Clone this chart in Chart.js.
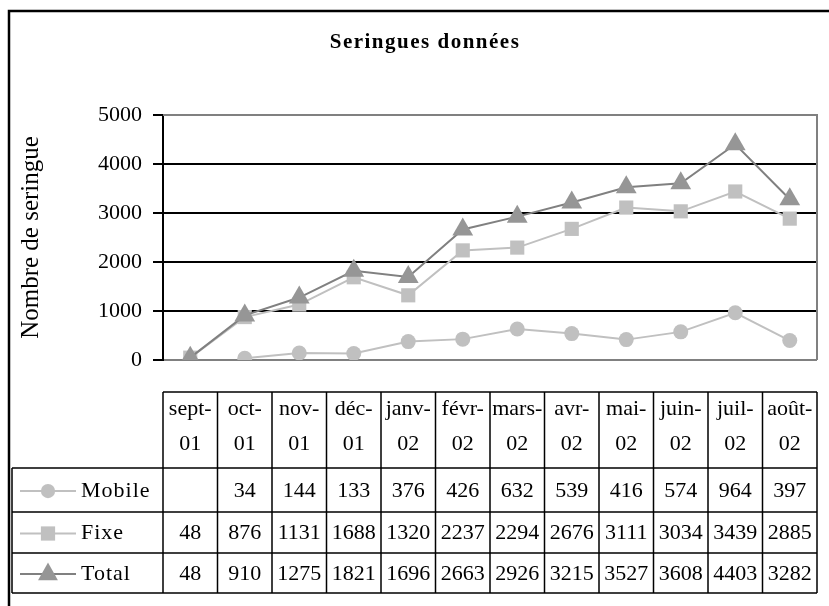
<!DOCTYPE html>
<html>
<head>
<meta charset="utf-8">
<script src="https://cdn.jsdelivr.net/npm/chart.js@4/dist/chart.umd.min.js"></script>
<style>
  html, body { margin: 0; padding: 0; background: #fff; }
  #wrap { width: 829px; height: 606px; position: relative; }
</style>
</head>
<body>
<div id="wrap"><canvas id="c" width="829" height="606"></canvas></div>
<script>
const months = ['sept-01', 'oct-01', 'nov-01', 'déc-01', 'janv-02', 'févr-02', 'mars-02', 'avr-02', 'mai-02', 'juin-02', 'juil-02', 'août-02'];
const mobile = [null, 34, 144, 133, 376, 426, 632, 539, 416, 574, 964, 397];
const fixe = [48, 876, 1131, 1688, 1320, 2237, 2294, 2676, 3111, 3034, 3439, 2885];
const total = [48, 910, 1275, 1821, 1696, 2663, 2926, 3215, 3527, 3608, 4403, 3282];
const yTicks = [0, 1000, 2000, 3000, 4000, 5000];

const SERIF = '"Liberation Serif", "DejaVu Serif", serif';
const LIGHT = '#c0c0c0';
const DARK = '#969696';
const DARK_LINE = '#808080';
const FS = 22;

const series = [
  { name: 'Mobile', data: mobile, color: LIGHT, line: LIGHT, style: 'circle', r: 7.5 },
  { name: 'Fixe', data: fixe, color: LIGHT, line: LIGHT, style: 'rect', r: 10 },
  { name: 'Total', data: total, color: DARK, line: DARK_LINE, style: 'triangle', r: 12 },
];

// header row, then one row per series
const ROWS = [392, 468, 512, 553, 593];
const LEG_LEFT = 12;

function marker(ctx, style, x, y, r, color) {
  ctx.save();
  ctx.fillStyle = color;
  ctx.beginPath();
  if (style === 'circle') {
    ctx.arc(x, y, r, 0, Math.PI * 2);
  } else if (style === 'rect') {
    const s = r * 0.75;
    ctx.rect(x - s, y - s, s * 2, s * 2);
  } else {
    ctx.moveTo(x, y - r);
    ctx.lineTo(x + r * 0.87, y + r * 0.55);
    ctx.lineTo(x - r * 0.87, y + r * 0.55);
    ctx.closePath();
  }
  ctx.fill();
  ctx.restore();
}

const frame = {
  id: 'frame',
  beforeDatasetsDraw(chart) {
    const { ctx, chartArea: a } = chart;
    ctx.save();
    ctx.strokeStyle = '#808080';
    ctx.lineWidth = 2;
    ctx.beginPath();
    ctx.moveTo(a.left, a.top);
    ctx.lineTo(a.right, a.top);
    ctx.lineTo(a.right, a.bottom);
    ctx.stroke();
    ctx.restore();
  },
  afterDraw(chart) {
    const { ctx, chartArea: a } = chart;
    const xs = chart.scales.x;
    const colW = (a.right - a.left) / months.length;
    ctx.save();

    // outer frame (top and left edges visible)
    ctx.strokeStyle = '#000';
    ctx.lineWidth = 2.5;
    ctx.beginPath();
    ctx.moveTo(9, 606);
    ctx.lineTo(9, 11);
    ctx.lineTo(829, 11);
    ctx.stroke();

    // title
    ctx.fillStyle = '#000';
    ctx.font = 'bold 21px ' + SERIF;
    ctx.letterSpacing = '1.5px';
    ctx.textAlign = 'center';
    ctx.textBaseline = 'middle';
    ctx.fillText('Seringues données', 425, 43);
    ctx.letterSpacing = '0px';

    // data table grid
    ctx.lineWidth = 1.5;
    ctx.strokeStyle = '#000';
    ctx.beginPath();
    for (let i = 0; i <= months.length; i++) {
      const x = a.left + i * colW;
      ctx.moveTo(x, ROWS[0]);
      ctx.lineTo(x, ROWS[4]);
    }
    ctx.moveTo(a.left, ROWS[0]);
    ctx.lineTo(a.right, ROWS[0]);
    for (let r = 1; r <= 4; r++) {
      ctx.moveTo(LEG_LEFT, ROWS[r]);
      ctx.lineTo(a.right, ROWS[r]);
    }
    ctx.moveTo(LEG_LEFT, ROWS[1]);
    ctx.lineTo(LEG_LEFT, ROWS[4]);
    ctx.stroke();

    ctx.font = FS + 'px ' + SERIF;
    ctx.textAlign = 'center';
    ctx.textBaseline = 'middle';
    months.forEach((m, i) => {
      const x = xs.getPixelForValue(i);
      const [mo, yr] = m.split('-');
      ctx.fillText(mo + '-', x, 409);
      ctx.fillText(yr, x, 444);
    });

    series.forEach((s, r) => {
      const yc = (ROWS[r + 1] + ROWS[r + 2]) / 2 + 1;
      // legend key
      ctx.strokeStyle = s.line;
      ctx.lineWidth = 2;
      ctx.beginPath();
      ctx.moveTo(20, yc);
      ctx.lineTo(76, yc);
      ctx.stroke();
      marker(ctx, s.style, 48, yc, s.r * 0.95, s.color);
      ctx.fillStyle = '#000';
      ctx.textAlign = 'left';
      ctx.letterSpacing = '1px';
      ctx.fillText(s.name, 81, yc);
      ctx.letterSpacing = '0px';
      ctx.textAlign = 'center';
      s.data.forEach((v, i) => {
        if (v == null) return;
        ctx.fillText(String(v), xs.getPixelForValue(i), yc);
      });
    });
    ctx.restore();
  }
};

const datasets = series.map((s, i) => ({
  label: s.name,
  data: s.data,
  borderColor: s.line,
  backgroundColor: s.color,
  borderWidth: 2,
  pointStyle: s.style,
  pointRadius: s.r,
  pointHoverRadius: s.r,
  pointBorderWidth: 0,
  pointBackgroundColor: s.color,
  tension: 0,
  order: series.length - 1 - i,
}));

new Chart(document.getElementById('c'), {
  type: 'line',
  data: { labels: months, datasets },
  options: {
    responsive: false,
    animation: false,
    layout: { padding: { left: 12, right: 9, top: 115, bottom: 246 } },
    plugins: { legend: { display: false }, title: { display: false }, tooltip: { enabled: false } },
    scales: {
      x: { display: false, offset: true },
      y: {
        min: 0,
        max: 5000,
        afterBuildTicks: s => { s.ticks = yTicks.map(v => ({ value: v })); },
        afterFit: s => { s.width = 151; },
        border: { color: '#000', width: 2 },
        grid: {
          color: c => (c.tick.value === 0 || c.tick.value === 5000) ? '#808080' : '#000',
          lineWidth: 2,
          tickColor: '#000',
          tickLength: 10,
        },
        ticks: { color: '#000', font: { family: SERIF, size: FS }, padding: 11, callback: v => String(v) },
        title: {
          display: true,
          text: 'Nombre de seringue',
          color: '#000',
          font: { family: SERIF, size: 25 },
          padding: { top: 4 },
        },
      },
    },
  },
  plugins: [frame],
});
</script>
</body>
</html>
